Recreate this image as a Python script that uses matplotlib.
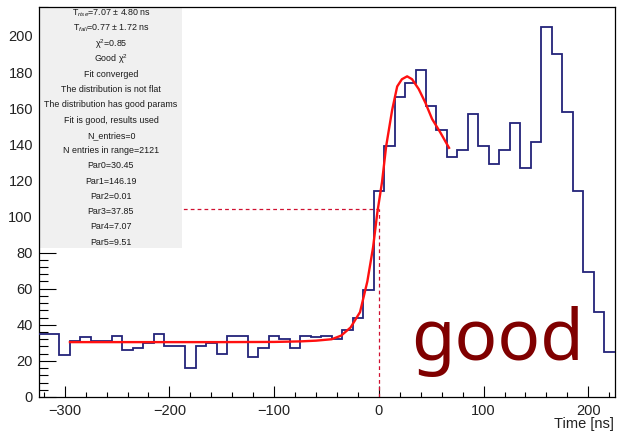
import numpy as np
import matplotlib
matplotlib.use("Agg")
import matplotlib.pyplot as plt
from matplotlib.ticker import MultipleLocator
from matplotlib.patches import Rectangle

plt.rcParams['font.family'] = ['Liberation Sans', 'DejaVu Sans']
plt.rcParams['mathtext.fontset'] = 'custom'
plt.rcParams['mathtext.rm'] = 'Liberation Sans'
plt.rcParams['mathtext.it'] = 'Liberation Sans:italic'

# Histogram: 10 ns bins from -325 ns to 225 ns
bin_edges = np.arange(-325, 226, 10)
counts = [35, 35, 23, 31, 33, 31, 31, 34, 26, 27,
          30, 35, 28, 28, 16, 28, 30, 24, 34, 34,
          22, 27, 34, 32, 27, 34, 33, 34, 32, 37,
          44, 59, 114, 139, 166, 174, 181, 161, 148, 133,
          137, 157, 139, 129, 137, 152, 127, 141, 205, 190,
          158, 114, 69, 47, 25]

# Fitted pulse shape
fit_t = [-295, -250, -200, -150, -100, -75, -60, -45, -36, -27, -18, -11,
         -5.5, -1.5, 3, 7, 12.7, 17.5, 22, 27, 31.7, 38, 44.4, 50.8, 58.7, 67]
fit_y = [30.4, 30.4, 30.4, 30.4, 30.5, 30.8, 31.2, 32, 34, 38.5, 47, 64,
         83, 102, 119, 139, 159, 172, 176, 177.6, 176, 170.6, 163, 154, 146.5, 138]

# Half-height marker
t_half = 0.0
y_half = 104.3

stats_lines = [
    r'T$_{rise}$=7.07 $\pm$ 4.80 ns',
    r'T$_{fall}$=0.77 $\pm$ 1.72 ns',
    r'χ$^{2}$=0.85',
    r'Good χ$^{2}$',
    'Fit converged',
    'The distribution is not flat',
    'The distribution has good params',
    'Fit is good, results used',
    'N_entries=0',
    'N entries in range=2121',
    'Par0=30.45',
    'Par1=146.19',
    'Par2=0.01',
    'Par3=37.85',
    'Par4=7.07',
    'Par5=9.51',
]

W, H = 617, 434
fig = plt.figure(figsize=(W / 100, H / 100), dpi=100)
ax_l, ax_r, ax_t, ax_b = 38.5, 614.5, 7, 397
ax = fig.add_axes([ax_l / W, 1 - ax_b / H, (ax_r - ax_l) / W, (ax_b - ax_t) / H])

ax.set_xlim(-325, 225)
ax.set_ylim(0, 216)

ax.stairs(counts, bin_edges, baseline=None, color='#23237a', linewidth=1.3, zorder=3)
ax.plot(fit_t, fit_y, color='#ff1010', linewidth=1.7, zorder=4)

ax.plot([-325, t_half], [y_half, y_half], color='#d01030', linewidth=0.9,
        linestyle=(0, (3, 2.5)), zorder=2)
ax.plot([t_half, t_half], [0, y_half], color='#d01030', linewidth=0.9,
        linestyle=(0, (3, 2.5)), zorder=2)

# Stats box (drawn above the dashed guide)
box_h_px = ax_b - ax_t
box = Rectangle((0, (ax_b - 248) / box_h_px), (182 - ax_l) / (ax_r - ax_l),
                1 - (ax_b - 248) / box_h_px, transform=ax.transAxes,
                facecolor='#f0f0f0', edgecolor='none', zorder=2.5)
ax.add_patch(box)
cx = (111 - ax_l) / (ax_r - ax_l)
for i, line in enumerate(stats_lines):
    ypx = 13.3 + i * 15.25
    ax.text(cx, (ax_b - ypx) / box_h_px, line, transform=ax.transAxes,
            ha='center', va='center', fontsize=6.4, color='#1a1a1a', zorder=5)

ax.text((411 - ax_l) / (ax_r - ax_l), (ax_b - 360) / box_h_px, 'good',
        transform=ax.transAxes, ha='left', va='baseline',
        fontsize=51, color='#800000', family=['Noto Sans', 'DejaVu Sans'], zorder=6)

# Axes styling
ax.xaxis.set_major_locator(MultipleLocator(100))
ax.xaxis.set_minor_locator(MultipleLocator(20))
ax.yaxis.set_major_locator(MultipleLocator(20))
ax.yaxis.set_minor_locator(MultipleLocator(4))
ax.tick_params(axis='x', which='major', direction='in', length=8, width=0.8,
               labelsize=10.5, pad=5, colors='black', labelcolor='#222222')
ax.tick_params(axis='x', which='minor', direction='in', length=3.6, width=0.8)
ax.tick_params(axis='y', which='major', direction='in', length=12, width=0.8,
               labelsize=10.5, pad=4, colors='black', labelcolor='#222222')
ax.tick_params(axis='y', which='minor', direction='in', length=6.3, width=0.8)
for s in ax.spines.values():
    s.set_linewidth(0.9)

fig.text((ax_r - 1) / W, 1 - 424 / H, 'Time [ns]', ha='right', va='center',
         fontsize=10.5, color='#222222')

fig.savefig('out.png', dpi=100)
